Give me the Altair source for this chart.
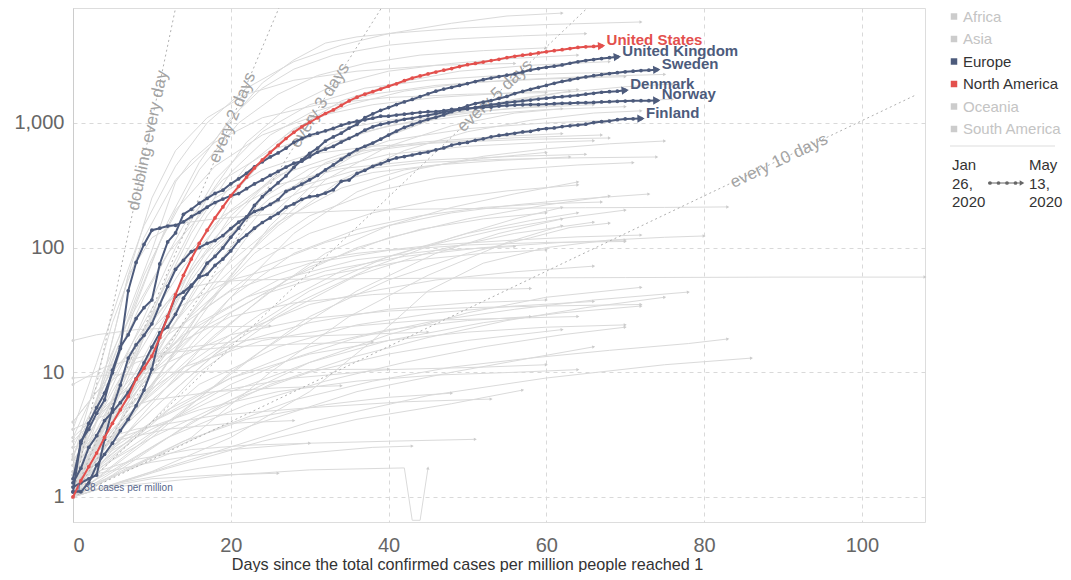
import math
import altair as alt
import pandas as pd

FONT = "Liberation Sans"
W, H = 852, 514
X_MAX = 108
Y_MIN, Y_MAX = 0.63, 8350
PX_DAY = W / X_MAX
PX_DEC = H / (math.log10(Y_MAX) - math.log10(Y_MIN))

BLUE = "#4d5b7c"
RED = "#e3504d"
GREY = "#dadada"

# ---------------- highlighted countries (daily values, cases per million) -------------
us_values = [1.0, 1.35, 1.75, 2.25, 3.0, 3.9, 5.0, 6.4, 8.8, 10.8,
             13.5, 19, 28, 42, 60, 81, 108, 138, 173, 212,
             260, 310, 368, 435, 505, 580, 660, 750, 840, 930,
             1010, 1100, 1190, 1270, 1380, 1500, 1610, 1700, 1780, 1870,
             1970, 2060, 2180, 2290, 2380, 2470, 2560, 2650, 2730, 2830,
             2930, 3000, 3080, 3160, 3240, 3340, 3420, 3490, 3560, 3640,
             3720, 3800, 3870, 3950, 4030, 4080, 4110, 4150]
uk_values = [1.3, 1.7, 2.5, 3.1, 4.1, 4.8, 5.7, 6.9, 8.9, 11.9,
             15.9, 20.8, 23.1, 29.2, 39.3, 48.9, 59.6, 75, 85, 99.5,
             121, 143, 175, 218, 256, 292, 331, 376, 441, 505,
             571, 627, 716, 772, 827, 909, 974, 1104, 1182, 1262,
             1327, 1405, 1474, 1543, 1627, 1710, 1797, 1867, 1932, 1998,
             2067, 2148, 2221, 2288, 2352, 2412, 2473, 2564, 2656, 2728,
             2793, 2853, 2919, 3010, 3094, 3164, 3222, 3281, 3339, 3390]
sweden_values = [1.2, 1.3, 1.4, 1.5, 2.9, 5.1, 7.9, 13, 16.6, 19.8,
                 24.5, 34.7, 48.8, 67, 79, 93, 100, 108, 114, 125,
                 142, 160, 176, 195, 205, 222, 242, 283, 300, 323,
                 350, 380, 420, 460, 510, 560, 610, 650, 690, 740,
                 800, 860, 920, 970, 1020, 1070, 1110, 1160, 1230, 1300,
                 1370, 1430, 1470, 1510, 1570, 1630, 1720, 1790, 1860, 1930,
                 2000, 2080, 2150, 2210, 2280, 2340, 2390, 2440, 2490, 2530,
                 2570, 2600, 2630, 2650, 2670]
denmark_values = [1.4, 2.7, 3.9, 5.2, 6.8, 9.9, 15.5, 45, 76, 106,
                  138, 143, 149, 151, 161, 177, 192, 211, 230, 245,
                  261, 271, 297, 324, 349, 380, 408, 442, 475, 493,
                  536, 584, 616, 648, 703, 753, 807, 874, 931, 972,
                  1003, 1034, 1068, 1089, 1123, 1152, 1186, 1220, 1249, 1273,
                  1296, 1327, 1364, 1398, 1426, 1456, 1478, 1500, 1526, 1553,
                  1579, 1605, 1622, 1642, 1667, 1699, 1727, 1762, 1779, 1798,
                  1826]
norway_values = [1.1, 2.8, 3.5, 4.7, 6.0, 10.4, 16, 20, 27, 33,
                 38, 74, 111, 131, 185, 203, 227, 248, 272, 289,
                 325, 356, 394, 444, 488, 533, 574, 627, 699, 747,
                 798, 828, 864, 905, 958, 1000, 1033, 1059, 1092, 1133,
                 1133, 1157, 1176, 1194, 1215, 1230, 1233, 1255, 1284, 1292,
                 1310, 1318, 1333, 1339, 1366, 1378, 1390, 1396, 1402, 1405,
                 1415, 1426, 1436, 1441, 1449, 1454, 1461, 1472, 1481, 1489,
                 1496, 1503, 1508, 1509, 1514]
finland_values = [1.1, 1.1, 1.3, 1.8, 2.2, 2.7, 3.4, 4.2, 5.4, 7.2,
                  10.6, 19.7, 28, 40.6, 44, 50, 58, 61, 72, 81,
                  94, 113, 126, 143, 159, 173, 188, 211, 224, 244,
                  256, 261, 274, 291, 340, 348, 393, 417, 449, 470,
                  500, 524, 537, 553, 571, 584, 608, 630, 664, 683,
                  698, 725, 745, 773, 793, 808, 826, 847, 856, 885,
                  902, 912, 934, 948, 961, 977, 1006, 1024, 1036, 1061,
                  1076, 1080, 1084]

highlight_names = ["United Kingdom", "Sweden", "Denmark", "Norway", "Finland", "United States"]
highlight_series = [uk_values, sweden_values, denmark_values, norway_values, finland_values, us_values]
highlight_colors = [BLUE, BLUE, BLUE, BLUE, BLUE, RED]

# ---------------- other countries (knots: day, cases per million) ----------------
grey_top = [
    [(0, 1.5), (5, 14), (10, 95), (13, 336), (15, 500), (18, 730), (21, 1260), (24, 2090), (28, 3200), (32, 4370), (36, 4900), (41, 5270), (49, 5760), (60, 6150), (72, 6450)],
    [(0, 1.2), (4, 6), (8, 35), (12, 160), (16, 480), (20, 1100), (24, 1900), (28, 2700), (33, 3500), (40, 4200), (48, 4700), (57, 5000), (65, 5200)],
    [(0, 2.1), (6, 18), (11, 110), (16, 420), (21, 1000), (26, 1700), (31, 2400), (37, 3000), (44, 3500), (52, 3800), (60, 4000)],
    [(0, 1.1), (7, 9), (12, 60), (17, 250), (22, 700), (27, 1300), (33, 2000), (40, 2600), (48, 3000), (56, 3300), (64, 3500)],
    [(0, 3.5), (3, 12), (6, 45), (9, 150), (13, 450), (17, 1000), (22, 1900), (28, 3100), (34, 4200), (40, 5200), (48, 6300), (55, 7200), (62, 7600)],
    [(0, 1.3), (9, 10), (15, 70), (21, 300), (27, 800), (34, 1500), (41, 2100), (49, 2600), (58, 2900), (68, 3100)],
    [(0, 1.6), (8, 20), (13, 100), (18, 350), (24, 850), (30, 1400), (37, 1900), (45, 2200), (54, 2400), (63, 2500), (70, 2550)],
    [(0, 1.3), (4, 10), (7, 60), (10, 250), (13, 600), (17, 1100), (22, 1700), (28, 2200), (36, 2600), (46, 2900), (56, 3000)],
    [(0, 2.0), (5, 25), (9, 120), (13, 350), (18, 700), (24, 1100), (31, 1400), (40, 1600), (50, 1700), (60, 1750)],
]
grey_mid = [
    [(0, 1.2), (5, 5), (10, 30), (15, 130), (20, 400), (25, 800), (30, 1200), (38, 1700), (46, 2000), (55, 2200), (65, 2350), (75, 2450)],
    [(0, 1.1), (7, 10), (12, 50), (17, 180), (22, 450), (28, 900), (35, 1400), (42, 1800), (50, 2100), (60, 2250), (70, 2350)],
    [(0, 1.5), (6, 8), (12, 35), (18, 120), (24, 300), (30, 550), (37, 850), (45, 1100), (55, 1300), (65, 1450), (76, 1550)],
    [(0, 1.0), (5, 3), (10, 15), (15, 60), (20, 180), (26, 400), (33, 700), (40, 950), (50, 1150), (60, 1280), (70, 1350)],
    [(0, 2.5), (4, 8), (9, 40), (14, 150), (19, 350), (25, 600), (32, 850), (40, 1050), (48, 1200), (58, 1330), (66, 1400)],
    [(0, 1.3), (8, 6), (15, 30), (22, 120), (30, 350), (38, 700), (46, 1100), (54, 1450), (62, 1750), (70, 1950), (76, 2050)],
    [(0, 1.1), (10, 8), (18, 40), (25, 150), (32, 400), (40, 800), (48, 1200), (56, 1550), (63, 1800)],
    [(0, 1.0), (6, 4), (12, 20), (18, 90), (24, 250), (30, 430), (38, 600), (46, 700), (56, 760), (67, 800)],
    [(0, 1.6), (5, 12), (9, 60), (13, 200), (18, 450), (24, 800), (30, 1100), (38, 1400), (46, 1600), (56, 1750), (64, 1850)],
    [(0, 1.2), (9, 10), (16, 50), (24, 200), (32, 480), (40, 720), (50, 900), (60, 1000), (68, 1050)],
    [(0, 3.0), (6, 20), (12, 90), (18, 250), (24, 420), (30, 560), (38, 650), (48, 700), (58, 740), (68, 757)],
    [(0, 1.4), (12, 10), (20, 40), (28, 130), (36, 280), (44, 430), (52, 540), (60, 620), (68, 680), (75, 716)],
    [(0, 1.1), (7, 7), (14, 40), (21, 150), (28, 300), (36, 420), (44, 480), (54, 510), (64, 525), (74, 533)],
    [(0, 1.8), (5, 7), (10, 25), (16, 80), (22, 180), (30, 300), (38, 400), (46, 460), (54, 500), (63, 533)],
    [(0, 1.2), (8, 5), (16, 30), (24, 120), (32, 350), (40, 650), (48, 950), (56, 1200), (62, 1300)],
    [(0, 2.0), (10, 12), (18, 50), (26, 150), (34, 350), (42, 600), (50, 850), (58, 1050), (66, 1200), (72, 1250)],
    [(0, 1.0), (4, 4), (8, 18), (14, 70), (20, 200), (26, 380), (34, 560), (44, 700), (54, 780), (62, 820)],
    [(0, 1.2), (6, 6), (12, 30), (18, 100), (25, 250), (32, 420), (40, 560), (50, 650), (60, 700), (66, 720)],
    [(0, 2.2), (7, 15), (13, 70), (19, 180), (26, 320), (34, 430), (44, 500), (56, 540), (65, 560)],
    [(0, 1.0), (9, 6), (16, 30), (23, 90), (30, 180), (38, 280), (46, 360), (55, 420), (64, 460), (71, 480)],
    [(0, 1.4), (5, 4), (11, 18), (18, 60), (26, 160), (34, 300), (42, 420), (52, 520), (60, 580)],
]
grey_low = [
    [(0, 1.0), (8, 4), (16, 15), (24, 40), (32, 90), (40, 150), (48, 210), (56, 270), (64, 336)],
    [(0, 1.3), (6, 5), (14, 25), (22, 70), (30, 130), (38, 190), (46, 240), (55, 285), (64, 318)],
    [(0, 2.0), (10, 8), (20, 30), (30, 70), (40, 120), (50, 170), (60, 220), (68, 259)],
    [(0, 1.1), (5, 3), (12, 12), (20, 40), (28, 90), (36, 140), (44, 180), (52, 210), (60, 225), (67, 232)],
    [(0, 1.5), (8, 7), (16, 30), (24, 70), (32, 110), (40, 150), (48, 190), (56, 220), (64, 245), (73, 269)],
    [(0, 1.0), (10, 3), (20, 10), (30, 28), (40, 55), (50, 90), (58, 120), (63, 145), (68, 157)],
    [(0, 4.0), (6, 12), (12, 30), (20, 55), (28, 75), (36, 90), (46, 105), (56, 115), (64, 122), (72, 126)],
    [(0, 1.0), (10, 1.6), (20, 3), (30, 7), (38, 18), (45, 45), (52, 75), (60, 100), (68, 115), (75, 121), (80, 124)],
    [(0, 1.2), (4, 10), (7, 60), (10, 120), (13, 155), (18, 170), (25, 185), (35, 198), (45, 204), (55, 207), (65, 209), (75, 210), (83, 212)],
    [(0, 1.0), (3, 3), (6, 9), (9, 22), (12, 37), (15, 48), (18, 53), (22, 55), (30, 56), (50, 57), (70, 57.5), (90, 58), (108, 58)],
    [(0, 1.3), (7, 4), (14, 10), (22, 22), (30, 35), (38, 45), (46, 55), (56, 64), (66, 71)],
    [(0, 1.8), (9, 6), (18, 20), (27, 55), (36, 100), (44, 140), (52, 170), (60, 190)],
    [(0, 1.0), (12, 4), (24, 15), (36, 45), (46, 90), (54, 130), (62, 170)],
    [(0, 2.2), (5, 6), (12, 20), (20, 45), (30, 75), (40, 95), (50, 105), (60, 110), (70, 112)],
    [(0, 1.3), (10, 5), (20, 18), (30, 45), (40, 85), (50, 130), (58, 165), (64, 190)],
    [(0, 1.1), (8, 3), (16, 10), (26, 28), (36, 60), (46, 95), (56, 130), (66, 160)],
    [(0, 1.5), (6, 4), (14, 11), (24, 30), (34, 65), (44, 100), (54, 140), (63, 175), (70, 200)],
    [(0, 1.0), (15, 3), (25, 10), (35, 28), (45, 60), (55, 110), (62, 150)],
    [(0, 2.8), (8, 9), (16, 25), (26, 55), (36, 80), (46, 95), (56, 102)],
    [(0, 1.2), (5, 2.5), (10, 5), (18, 14), (28, 35), (38, 70), (48, 120), (56, 170), (62, 210)],
    [(0, 2.0), (3, 3), (8, 9), (14, 20), (22, 40), (32, 65), (42, 85), (52, 100), (62, 110), (70, 115)],
    [(0, 1.3), (5, 4), (10, 10), (16, 22), (24, 42), (32, 60), (42, 78), (52, 90), (60, 96)],
]
grey_bottom = [
    [(0, 1.0), (10, 2.5), (20, 6), (30, 12), (40, 20), (50, 30), (60, 40), (72, 48)],
    [(0, 1.2), (8, 3), (16, 8), (26, 16), (36, 24), (46, 30), (56, 34), (66, 37)],
    [(0, 1.5), (10, 4), (20, 9), (30, 16), (40, 22), (50, 26), (58, 28)],
    [(0, 1.0), (5, 1.5), (15, 4), (25, 8), (35, 13), (45, 19), (55, 26), (65, 33), (75, 40)],
    [(0, 2.0), (6, 5), (14, 11), (24, 18), (34, 23), (44, 26), (54, 27), (64, 28)],
    [(0, 1.1), (12, 2.2), (24, 4), (36, 7), (48, 10), (58, 13), (66, 16)],
    [(0, 3.0), (5, 6), (12, 12), (20, 20), (30, 27), (40, 31), (50, 33), (60, 34), (72, 35)],
    [(0, 1.3), (10, 3), (20, 6), (30, 10), (40, 14), (50, 18), (62, 22)],
    [(0, 1.0), (8, 1.8), (18, 3.5), (28, 6), (38, 8.5), (48, 11), (58, 13), (68, 15), (78, 17), (83, 18.5)],
    [(0, 1.8), (6, 3), (16, 5), (26, 7), (36, 8.5), (46, 9.5), (56, 10), (64, 10.5)],
    [(0, 1.2), (4, 2), (10, 4), (18, 7), (28, 9), (40, 10.5), (52, 11), (60, 11.5)],
    [(0, 1.0), (12, 1.7), (24, 2.8), (36, 4.2), (48, 5.6), (57, 7.2)],
    [(0, 2.5), (8, 3.5), (18, 4.5), (30, 5.2), (42, 5.8), (53, 6.1)],
    [(0, 1.4), (10, 1.9), (20, 2.4), (30, 2.7), (40, 2.8), (51, 2.9)],
    [(0, 1.0), (6, 1.3), (16, 1.7), (28, 2.2), (38, 2.5), (43, 2.56)],
    [(0, 1.1), (10, 1.3), (20, 1.5), (30, 1.65), (42, 1.71), (43, 0.65), (44, 0.65), (45, 1.71)],
    [(0, 1.0), (5, 2), (12, 4), (20, 8), (28, 13), (36, 19), (46, 26), (56, 32), (66, 38), (78, 44)],
    [(0, 1.6), (10, 3.5), (20, 7), (30, 12), (40, 18), (52, 25), (62, 30), (72, 34)],
    [(0, 1.1), (4, 1.5), (12, 3), (22, 5.5), (32, 8.5), (42, 12), (52, 16), (62, 20), (70, 23)],
    [(0, 1.0), (15, 2), (30, 4), (45, 6.5), (60, 9), (75, 11.5), (86, 13)],
    [(0, 4.0), (3, 7), (8, 12), (15, 16), (25, 19), (35, 20), (45, 21)],
    [(0, 8.0), (4, 11), (10, 14), (20, 16), (30, 17), (38, 17.5)],
    [(0, 1.5), (5, 3), (10, 6), (15, 11), (22, 18), (30, 25), (40, 32), (50, 36), (60, 38)],
    [(0, 1.2), (4, 3.5), (8, 9), (14, 18), (20, 28), (28, 36), (38, 42), (48, 45), (58, 47)],
    [(0, 1.0), (6, 1.6), (14, 2.8), (22, 4.2), (32, 5.5), (40, 6.3), (48, 6.8)],
    [(0, 3.5), (4, 4.5), (10, 6), (18, 7), (26, 7.5), (34, 7.8)],
    [(0, 18), (3, 20), (8, 22), (15, 23), (25, 23.5)],
    [(0, 9.0), (5, 9.5), (12, 10), (20, 10.3), (30, 10.5), (40, 10.6)],
    [(0, 1.3), (3, 1.6), (8, 2), (15, 2.4), (22, 2.6), (30, 2.7)],
    [(0, 1.0), (4, 1.2), (10, 1.4), (18, 1.5), (26, 1.55)],
    [(0, 2.0), (5, 2.8), (12, 3.5), (20, 3.9), (28, 4.1)],
    [(0, 1.2), (6, 2.5), (12, 5), (20, 9), (30, 14), (40, 18), (50, 21), (60, 23), (70, 24)],
]

# ---------------- doubling-time guides ----------------
guide_names = ["doubling every day", "every 2 days", "every 3 days", "every 5 days", "every 10 days"]
guide_doubling = [1, 2, 3, 5, 10]
guide_end_day = [13.0, 26.1, 39.1, 65.2, 106.7]
guide_end_value = [8350, 8350, 8350, 8350, 1660]
guide_label_day = [9.5, 20.2, 31.3, 53.5, 89.5]
guide_label_value = [724, 1100, 1380, 1650, 495]

legend_items = ["Africa", "Asia", "Europe", "North America", "Oceania", "South America"]
legend_colors = ["#cccccc", "#cccccc", BLUE, RED, "#cccccc", "#cccccc"]
legend_text_colors = ["#c4c4c4", "#c4c4c4", "#333333", "#333333", "#c4c4c4", "#c4c4c4"]


def seg_angle(d1, v1, d2, v2):
    dx = (d2 - d1) * PX_DAY
    dy = (math.log10(v2) - math.log10(v1)) * PX_DEC
    return (360 - math.degrees(math.atan2(dy, dx))) % 360


# ---------------- tables ----------------
grey_rows, grey_end_rows, grey_start_rows = [], [], []
for gi, knots in enumerate(grey_top + grey_mid + grey_low + grey_bottom):
    for d, v in knots:
        grey_rows.append({"id": f"c{gi}", "day": d, "value": v})
    (d1, v1), (d2, v2) = knots[-2], knots[-1]
    grey_end_rows.append({"day": d2, "value": v2, "angle": seg_angle(d1, v1, d2, v2)})
    grey_start_rows.append({"day": knots[0][0], "value": knots[0][1]})
grey_df = pd.DataFrame(grey_rows)
grey_end_df = pd.DataFrame(grey_end_rows)
grey_start_df = pd.DataFrame(grey_start_rows)

hl_rows, hl_end_rows = [], []
for name, vals, col in zip(highlight_names, highlight_series, highlight_colors):
    for d, v in enumerate(vals):
        hl_rows.append({"name": name, "day": d, "value": v, "color": col})
    n = len(vals) - 1
    hl_end_rows.append({"name": name, "day": n, "value": vals[-1], "color": col,
                        "angle": seg_angle(n - 1, vals[-2], n, vals[-1])})
hl_df = pd.DataFrame(hl_rows)
hl_end_df = pd.DataFrame(hl_end_rows)

guide_rows, guide_lab_rows = [], []
for name, r, ed, ev, ld, lv in zip(guide_names, guide_doubling, guide_end_day, guide_end_value,
                                   guide_label_day, guide_label_value):
    guide_rows.append({"name": name, "day": 0, "value": 1})
    guide_rows.append({"name": name, "day": ed, "value": ev})
    ang = math.degrees(math.atan((math.log10(2) / r * PX_DEC) / PX_DAY))
    guide_lab_rows.append({"name": name, "day": ld, "value": lv, "angle": 360 - ang})
guide_df = pd.DataFrame(guide_rows)
guide_lab_df = pd.DataFrame(guide_lab_rows)

# ---------------- encodings ----------------
x_scale = alt.Scale(domain=[0, X_MAX], nice=False, zero=False)
y_scale = alt.Scale(type="log", domain=[Y_MIN, Y_MAX], nice=False)
x_axis = alt.Axis(values=[0, 20, 40, 60, 80, 100],
                  title="Days since the total confirmed cases per million people reached 1",
                  grid=True, gridDash=[4, 4], gridColor="#d9d9d9", domain=False, ticks=False,
                  labelFontSize=20, labelColor="#666666", labelPadding=13, labelFont=FONT,
                  titleFont=FONT, titleFontSize=16.2, titleColor="#333333", titleFontWeight="normal",
                  titleX=394, titleY=47, titleAlign="center", titleAnchor="start",
                  titleBaseline="alphabetic")
y_axis = alt.Axis(values=[1, 10, 100, 1000], format=",", title=None,
                  grid=True, gridDash=[4, 4], gridColor="#d9d9d9", domain=True, domainColor="#cccccc",
                  ticks=False, labelFontSize=20, labelColor="#666666", labelPadding=9, labelFont=FONT)
X = alt.X("day:Q", scale=x_scale, axis=x_axis)
Y = alt.Y("value:Q", scale=y_scale, axis=y_axis)

grey_lines = alt.Chart(grey_df).mark_line(color=GREY, strokeWidth=1, clip=True).encode(
    x=X, y=Y, detail="id:N", order="day:Q")
grey_starts = alt.Chart(grey_start_df).mark_circle(size=9, color="#d4d4d4", opacity=1).encode(x=X, y=Y)
grey_arrows = alt.Chart(grey_end_df).mark_point(shape="triangle-right", filled=True, size=12,
                                                color="#cccccc", opacity=1).encode(
    x=X, y=Y, angle=alt.Angle("angle:Q", scale=None))

guides = alt.Chart(guide_df).mark_line(color="#b0b0b0", strokeDash=[2, 3], strokeWidth=1, clip=True).encode(
    x=X, y=Y, detail="name:N")
guide_labels = alt.Chart(guide_lab_df).mark_text(fontSize=17, color="#a3a3a3", font=FONT,
                                                 align="center", baseline="middle").encode(
    x=X, y=Y, text="name:N", angle=alt.Angle("angle:Q", scale=None))


def highlight_layers(df, end_df):
    col = alt.Color("color:N", scale=None)
    lines = alt.Chart(df).mark_line(strokeWidth=2).encode(x=X, y=Y, detail="name:N", color=col, order="day:Q")
    pts = alt.Chart(df).mark_circle(size=14, opacity=1).encode(x=X, y=Y, color=col)
    arrows = alt.Chart(end_df).mark_point(shape="triangle-right", filled=True, size=70, opacity=1).encode(
        x=X, y=Y, color=col, angle=alt.Angle("angle:Q", scale=None))
    labels = alt.Chart(end_df).mark_text(align="left", baseline="middle", dx=5, dy=-6, fontSize=15,
                                         fontWeight="bold", font=FONT).encode(
        x=X, y=Y, text="name:N", color=col)
    return [lines, pts, arrows, labels]


blue_layers = highlight_layers(hl_df[hl_df.color == BLUE], hl_end_df[hl_end_df.color == BLUE])
red_layers = highlight_layers(hl_df[hl_df.color == RED], hl_end_df[hl_end_df.color == RED])

start_note = alt.Chart(pd.DataFrame({"day": [0], "value": [1.38], "t": ["1.38 cases per million"]})).mark_text(
    align="left", baseline="middle", dx=3, dy=8, fontSize=10, color="#56658a", font=FONT).encode(
    x=X, y=Y, text="t:N")

# ---------------- custom legend (pixel layout) ----------------
one = pd.DataFrame({"k": [0]})


def px_text(x, y, s, color, size=15, align="left"):
    return alt.Chart(one).mark_text(align=align, baseline="middle", fontSize=size, color=color,
                                    font=FONT).encode(x=alt.value(x), y=alt.value(y), text=alt.value(s))


legend_layers = []
for i, (name, c, tc) in enumerate(zip(legend_items, legend_colors, legend_text_colors)):
    yy = 8.5 + 22.5 * i
    legend_layers.append(alt.Chart(one).mark_square(size=42, color=c, opacity=1).encode(
        x=alt.value(881), y=alt.value(yy)))
    legend_layers.append(px_text(890, yy, name, tc))

legend_layers.append(alt.Chart(one).mark_rule(color="#dddddd", strokeWidth=1).encode(
    x=alt.value(877), x2=alt.value(982), y=alt.value(138)))
for j, s in enumerate(["Jan", "26,", "2020"]):
    legend_layers.append(px_text(879, 157 + 18.5 * j, s, "#333333"))
for j, s in enumerate(["May", "13,", "2020"]):
    legend_layers.append(px_text(956, 157 + 18.5 * j, s, "#333333"))
legend_layers.append(alt.Chart(one).mark_rule(color="#666666", strokeWidth=1.2).encode(
    x=alt.value(915), x2=alt.value(948), y=alt.value(175)))
for xx in [917, 925.5, 934, 942.5]:
    legend_layers.append(alt.Chart(one).mark_circle(size=14, color="#666666", opacity=1).encode(
        x=alt.value(xx), y=alt.value(175)))
legend_layers.append(alt.Chart(one).mark_point(shape="triangle-right", filled=True, size=28,
                                               color="#666666", opacity=1).encode(
    x=alt.value(949), y=alt.value(175)))

chart = alt.layer(
    grey_lines, grey_starts, grey_arrows, guides, guide_labels,
    *blue_layers, *red_layers, start_note, *legend_layers
).properties(
    width=W, height=H,
    autosize=alt.AutoSizeParams(type="none"),
    padding={"left": 65, "top": 0, "right": 138, "bottom": 50},
).configure_view(stroke=None).configure(font=FONT)

chart.save("out.html", embed_options={"renderer": "svg", "actions": False})
